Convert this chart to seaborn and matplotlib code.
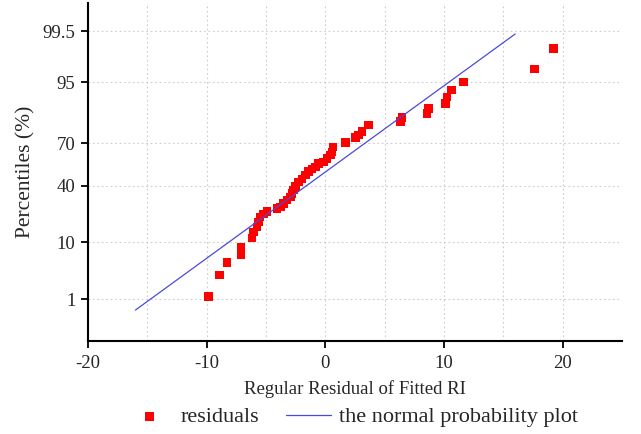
import matplotlib
matplotlib.use('Agg')
import matplotlib.pyplot as plt
from matplotlib.ticker import FixedLocator
from statistics import NormalDist
import numpy as np
import seaborn as sns

# residuals (x) and their plotting percentiles (y, %)
resid = [-9.85, -8.92, -8.29, -7.11, -7.11, -6.18, -6.05, -5.76, -5.63, -5.49,
         -5.23, -4.90, -4.08, -3.80, -3.52, -3.23, -2.95, -2.81, -2.67, -2.53,
         -2.25, -1.97, -1.69, -1.41, -1.12, -0.84, -0.56, -0.14, 0.14, 0.42,
         0.56, 0.63, 1.69, 2.53, 2.81, 3.10, 3.65, 6.33, 6.47, 8.58,
         8.71, 10.13, 10.27, 10.61, 11.62, 17.64, 19.21]
pct = [1.13, 2.97, 4.85, 6.44, 8.35, 11.35, 13.6, 15.7, 18.0, 20.5,
       22.1, 23.4, 25.3, 26.2, 28.3, 30.4, 32.5, 34.8, 37.0, 39.4,
       42.7, 44.8, 47.7, 50.2, 52.1, 53.8, 56.2, 57.4, 59.8, 62.1,
       64.4, 67.5, 70.6, 73.5, 75.0, 76.9, 80.5, 82.1, 84.1, 85.8,
       87.8, 89.5, 91.5, 93.3, 95.0, 97.0, 98.8]

# reference normal line (end points)
line_x = [-16.0, 16.0]
line_pct = [0.58, 99.42]

yticks = [1, 10, 40, 70, 95, 99.5]
ytick_labels = ['1', '10', '40', '70', '95', '99.5']
xticks = [-20, -10, 0, 10, 20]

sns.set_style('white')
plt.rcParams['font.family'] = ['Liberation Serif', 'DejaVu Serif']

nd = NormalDist()


def _fwd(v):
  v = min(max(v / 100.0, 1e-9), 1 - 1e-9)
  return nd.inv_cdf(v)


def _inv(z):
  return nd.cdf(z) * 100.0


fwd = np.vectorize(_fwd, otypes=[float])
inv = np.vectorize(_inv, otypes=[float])

fig = plt.figure(figsize=(6.41, 4.34), dpi=100)
ax = fig.add_axes([88 / 641, 1 - 341 / 434, (622 - 88) / 641, (341 - 3) / 434])

sns.scatterplot(x=resid, y=pct, marker='s', color='#ff0000', s=38,
                edgecolor='none', linewidth=0, label='residuals', ax=ax,
                legend=False)
sns.lineplot(x=line_x, y=line_pct, color='#4a4ade', linewidth=0.9,
             label='the normal probability plot', ax=ax, legend=False)

ax.set_yscale('function', functions=(fwd, inv))
ax.set_ylim(0.1, 99.9)
ax.set_xlim(-20, 25)

ax.set_yticks(yticks, labels=ytick_labels)
ax.set_xticks(xticks, labels=[str(t) for t in xticks])
ax.xaxis.set_minor_locator(FixedLocator([-15, -5, 5, 15]))
ax.yaxis.set_minor_locator(FixedLocator([]))

ax.tick_params(axis='both', which='major', direction='out', length=5,
               width=1.3, color='black', labelsize=13.5, pad=4)
ax.tick_params(axis='x', which='major', pad=5)
ax.tick_params(axis='x', which='minor', direction='out', length=3,
               width=1.3, color='black')
ax.tick_params(left=True, bottom=True)

ax.grid(True, which='both', axis='x', linestyle=(0, (1.5, 2.5)),
        color='#cccccc', linewidth=0.8)
ax.grid(True, which='major', axis='y', linestyle=(0, (1.5, 2.5)),
        color='#cccccc', linewidth=0.8)

for side in ['top', 'right']:
  ax.spines[side].set_visible(False)
for side in ['left', 'bottom']:
  ax.spines[side].set_color('black')
  ax.spines[side].set_linewidth(1.5)

ax.set_xlabel('Regular Residual of Fitted RI', fontsize=13.5, labelpad=6)
ax.set_ylabel('Percentiles (%)', fontsize=15.5, labelpad=5)

handles, labels = ax.get_legend_handles_labels()
fig.legend(handles, labels, loc='center', bbox_to_anchor=(353 / 641, 1 - 417 / 434),
           ncol=2, frameon=False, fontsize=16, handlelength=2.0,
           handletextpad=0.4, columnspacing=1.2, markerscale=1.0)

fig.savefig('out.png', dpi=100)
